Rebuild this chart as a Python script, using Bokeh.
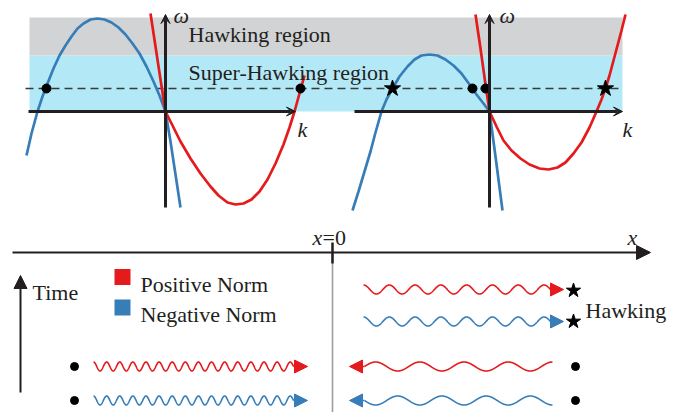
import numpy as np
from bokeh.plotting import figure
from bokeh.models import Range1d, Arrow, VeeHead, NormalHead
from bokeh.core.properties import value
from bokeh.embed import file_html
from bokeh.resources import INLINE

RED = "#e41a1c"
BLUE = "#377eb8"
INK = "#231f20"
GRAY_BAND = "#d1d3d4"
CYAN_BAND = "#b3e9f7"
FONT = "'Liberation Serif', 'Times New Roman', serif"
FS = "22px"

W, H = 679, 412

# ---------------- dispersion panels (k, omega in panel units) ----------------
# left panel
blue_left_k = [-139, -134, -128, -123, -118, -112, -106, -100, -94, -88, -82, -75, -68,
               -61, -54, -47, -40, -33, -26, -19, -12, -6, 0, 5, 10, 15]
blue_left_w = [-44, -22, 0, 15, 28, 43, 56, 66, 75, 83, 88, 92, 93,
               92, 89, 84, 77, 68, 58, 45, 30, 16, 0, -30, -63, -96]
red_left_k = [-15, -10, -5, 0, 8, 15, 25, 35, 45, 53, 62, 70, 78, 86, 94, 102, 110,
              118, 124, 129, 134, 139]
red_left_w = [98, 65, 32, 0, -16, -30, -47, -62, -75, -84, -91, -93, -92, -88, -80, -68,
              -52, -33, -16, 0, 18, 36]
# right panel
blue_right_k = [-137, -131, -125, -119, -114, -108, -103, -97, -90, -82, -75, -68, -60,
                -52, -44, -36, -28, -20, -13, -6, 0, 6, 13]
blue_right_w = [-99, -80, -60, -40, -21, 0, 12, 23, 35, 45, 52, 56, 57,
                56, 52, 46, 38, 27, 17, 8, 0, -45, -99]
red_right_k = [-14, -9, -4, 0, 7, 14, 22, 31, 40, 50, 59, 68, 76, 84, 92, 100, 107,
               112, 116, 120, 124, 128, 132, 136]
red_right_w = [97, 63, 27, 0, -15, -29, -39, -47, -53, -57, -58, -56, -51, -42, -31, -16, 0,
               12, 23, 36, 51, 66, 81, 97]

omega_line = 23          # dashed frequency
band_super = (0, 56)     # super-Hawking band (omega)
band_hawk = (56, 94)     # Hawking band (omega)

left_dots_k = [-119, 135]
right_dots_k = [-17, -4]
right_stars_k = [-97, 116]

# ---------------- bottom schematic ----------------
wave_x0 = [93, 93, 363, 363, 552, 552]
wave_x1 = [293, 293, 550, 550, 364, 364]
wave_tip = [307, 307, 563, 563, 349, 349]
wave_y = [366, 400, 289, 321, 366, 400]
wave_periods = [15.25, 15.25, 7.25, 7.25, 4.25, 4.25]
wave_phase = [-1, -1, -1, -1, -1, 1]
wave_color = [RED, BLUE, RED, BLUE, RED, BLUE]
wave_amp = 4.5

dot_x = [74, 74, 575, 575]
dot_y = [366, 400, 366, 400]
star_x = [573, 573]
star_y = [290, 321]

legend_labels = ["Positive Norm", "Negative Norm"]
legend_colors = [RED, BLUE]

# layout origins of the panels
OXL, OXR, OY = 165, 489, 111

p = figure(width=W, height=H, x_range=Range1d(0, W), y_range=Range1d(H, 0),
           x_axis_type=None, y_axis_type=None, output_backend="svg",
           toolbar_location=None, min_border=0)
p.outline_line_color = None
p.background_fill_color = "white"
p.grid.visible = False
p.extra_x_ranges = {"kL": Range1d(0 - OXL, W - OXL), "kR": Range1d(0 - OXR, W - OXR)}
p.extra_y_ranges = {"w": Range1d(OY - H, OY - 0)}

# bands
p.quad(left=[29], right=[622], bottom=[band_super[0]], top=[band_super[1]],
       y_range_name="w", fill_color=CYAN_BAND, line_color=None)
p.quad(left=[29], right=[622], bottom=[band_hawk[0]], top=[band_hawk[1]],
       y_range_name="w", fill_color=GRAY_BAND, line_color=None)
# dashed line
p.line(x=[25, 623], y=[omega_line, omega_line], y_range_name="w", line_color="#3a3a3a",
       line_width=1.3, line_dash="8 5")

# panel axes
for rn, k0, k1 in [("kL", -137, 130), ("kR", -135, 133)]:
    p.add_layout(Arrow(x_start=k0, y_start=0, x_end=k1, y_end=0, x_range_name=rn,
                       y_range_name="w", line_color=INK, line_width=3,
                       end=VeeHead(size=9, fill_color=INK, line_color=INK)))
    p.add_layout(Arrow(x_start=0, y_start=-96, x_end=0, y_end=97, x_range_name=rn,
                       y_range_name="w", line_color=INK, line_width=3,
                       end=VeeHead(size=9, fill_color=INK, line_color=INK)))

# curves
p.line(blue_left_k, blue_left_w, x_range_name="kL", y_range_name="w", line_color=BLUE, line_width=2.7)
p.line(red_left_k, red_left_w, x_range_name="kL", y_range_name="w", line_color=RED, line_width=2.7)
p.line(blue_right_k, blue_right_w, x_range_name="kR", y_range_name="w", line_color=BLUE, line_width=2.7)
p.line(red_right_k, red_right_w, x_range_name="kR", y_range_name="w", line_color=RED, line_width=2.7)

# markers on panels
p.scatter(left_dots_k, [omega_line] * 2, x_range_name="kL", y_range_name="w", size=9,
          color="black")
p.scatter(right_dots_k, [omega_line] * 2, x_range_name="kR", y_range_name="w", size=9,
          color="black")
p.scatter(right_stars_k, [omega_line] * 2, x_range_name="kR", y_range_name="w", size=17,
          marker="star", color="black")


def txt(x, y, s, italic=False, rn=None, align="left"):
    kw = {}
    if rn:
        kw["x_range_name"] = rn
        kw["y_range_name"] = "w"
    p.text(x=[x], y=[y], text=[s], text_font=value(FONT), text_font_size=FS,
           text_font_style="italic" if italic else "normal", text_color=INK,
           text_baseline="alphabetic", text_align=align, **kw)


# panel labels
txt(8, 96, "ω", True, "kL")
txt(10, 96, "ω", True, "kR")
txt(132, -18, "k", True, "kL")
txt(133, -18, "k", True, "kR")
txt(188, 34, "Hawking region")
txt(188, 72, "Super-Hawking region")

# bottom axis
p.add_layout(Arrow(x_start=12, y_start=252, x_end=650, y_end=252, line_color=INK,
                   line_width=2.2, end=NormalHead(size=14, fill_color=INK, line_color=INK)))
p.line([332, 332], [252, H], line_color="#9d9d9d", line_width=1.6)
p.line([332, 332], [242, 263], line_color=INK, line_width=2.5)
txt(312, 237, "x", True)
txt(322, 237, "=0")
txt(627, 237, "x", True)

# time arrow
p.add_layout(Arrow(x_start=20, y_start=392, x_end=20, y_end=275, line_color=INK,
                   line_width=2, end=NormalHead(size=13, fill_color=INK, line_color=INK)))
txt(32, 292, "Time")

# legend
p.scatter([122, 122], [276.5, 307], marker="square", size=16, color=legend_colors,
          line_color=None)
txt(140, 284, legend_labels[0])
txt(140, 314, legend_labels[1])

# wavy arrows
t = np.linspace(0, 1, 700)
for x0, x1, tip, yc, n, ph, c in zip(wave_x0, wave_x1, wave_tip, wave_y, wave_periods,
                                       wave_phase, wave_color):
    xs = x0 + (x1 - x0) * t
    ys = yc + ph * wave_amp * np.cos(2 * np.pi * n * t)
    p.line(xs, ys, line_color=c, line_width=1.6)
    p.add_layout(Arrow(x_start=x1, y_start=yc, x_end=tip, y_end=yc, line_color=c,
                       line_width=1.6, end=NormalHead(size=13, fill_color=c, line_color=c)))

p.scatter(dot_x, dot_y, size=8, color="black")
p.scatter(star_x, star_y, size=15, marker="star", color="black")
txt(585, 310, "Hawking")

open("out.html", "w").write(file_html(p, INLINE))
